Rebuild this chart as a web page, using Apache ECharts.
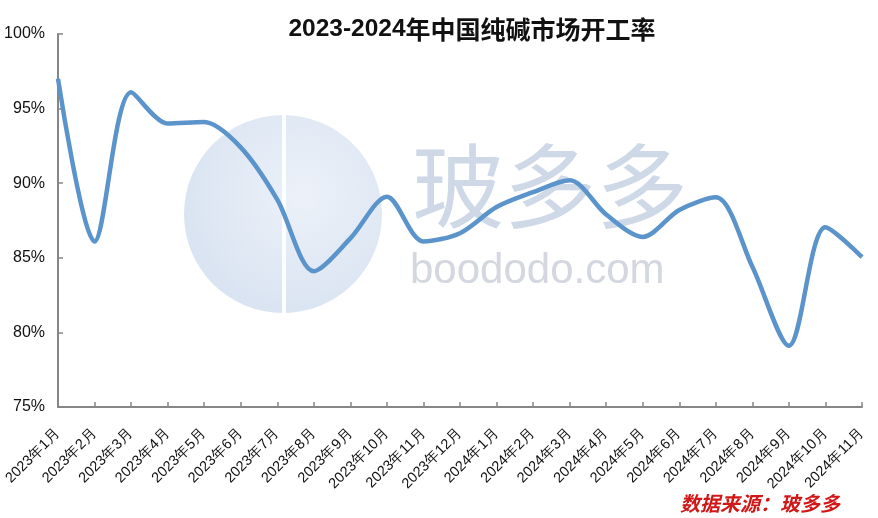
<!DOCTYPE html>
<html>
<head>
<meta charset="utf-8">
<script src="https://cdn.jsdelivr.net/npm/echarts@6/dist/echarts.min.js"></script>
<style>
html,body{margin:0;padding:0;background:#fff;}
#c{width:878px;height:518px;}
</style>
</head>
<body>
<div id="c"></div>
<script>
var categories = ['2023年1月','2023年2月','2023年3月','2023年4月','2023年5月','2023年6月','2023年7月','2023年8月','2023年9月','2023年10月','2023年11月','2023年12月','2024年1月','2024年2月','2024年3月','2024年4月','2024年5月','2024年6月','2024年7月','2024年8月','2024年9月','2024年10月','2024年11月'];
var rates = [97.0, 86.1, 96.1, 94.0, 94.1, 92.4, 88.9, 84.1, 86.3, 89.1, 86.1, 86.65, 88.4, 89.4, 90.2, 87.9, 86.4, 88.2, 89.05, 84.4, 79.1, 87.05, 85.05];
var yTicks = {min: 75, max: 100, interval: 5};

var chart = echarts.init(document.getElementById('c'), null, {renderer: 'canvas'});
var axisColor = '#868686';
chart.setOption({
  backgroundColor: '#ffffff',
  animation: false,
  title: {
    text: '{a|2023-2024}{b|年中国纯碱市场开工率}',
    left: 467, top: 12, textAlign: 'center',
    textStyle: {
      rich: {
        a: {fontFamily: 'Liberation Sans', fontSize: 24.5, fontWeight: 'bold', color: '#111'},
        b: {fontFamily: 'Noto Sans CJK SC', fontSize: 25, fontWeight: 'bold', color: '#111'}
      }
    }
  },
  graphic: [
    {type: 'circle', z: -10, shape: {cx: 283, cy: 214, r: 99},
     style: {fill: new echarts.graphic.RadialGradient(0.6, 0.4, 0.8, [{offset: 0, color: '#e6edf7'}, {offset: 1, color: '#c6d5ea'}]), opacity: 0.75}},
    {type: 'rect', z: -9, shape: {x: 282, y: 112, width: 4, height: 205}, style: {fill: '#ffffff', opacity: 0.9}},
    {type: 'text', z: -9, left: 412, top: 140,
     style: {text: '玻多多', fontFamily: 'Noto Sans CJK SC', fontSize: 92, fontWeight: 'normal', fill: '#c6d1e2', opacity: 0.85}},
    {type: 'text', z: -9, left: 410, top: 250,
     style: {text: 'boododo.com', fontFamily: 'Liberation Sans', fontSize: 42, fill: '#cfd3db', opacity: 0.9}},
    {type: 'text', left: 680, top: 493,
     style: {text: '数据来源：玻多多', fontFamily: 'Noto Sans CJK SC', fontSize: 20, fontWeight: 'bold', fontStyle: 'italic', fill: '#d01818'}}
  ],
  grid: {left: 58, right: 16, top: 34, bottom: 111, containLabel: false},
  xAxis: {
    type: 'category',
    data: categories,
    boundaryGap: false,
    axisLine: {lineStyle: {color: axisColor, width: 2}},
    axisTick: {inside: true, length: 5, lineStyle: {color: axisColor, width: 1.5}, alignWithLabel: true},
    axisLabel: {rotate: 45, interval: 0, margin: 24, fontFamily: 'Liberation Sans', fontSize: 14.5, color: '#111'},
    splitLine: {show: false}
  },
  yAxis: {
    type: 'value',
    min: yTicks.min, max: yTicks.max, interval: yTicks.interval,
    axisLine: {show: true, lineStyle: {color: axisColor, width: 2}},
    axisTick: {show: true, inside: true, length: 5, lineStyle: {color: axisColor, width: 1.5}},
    axisLabel: {formatter: '{value}%', margin: 13, fontFamily: 'Liberation Sans', fontSize: 16, color: '#111'},
    splitLine: {show: false}
  },
  series: [{
    type: 'line',
    data: rates,
    smooth: 0.3,
    symbol: 'none',
    lineStyle: {color: '#5b93cb', width: 4.5}
  }]
});
</script>
</body>
</html>
